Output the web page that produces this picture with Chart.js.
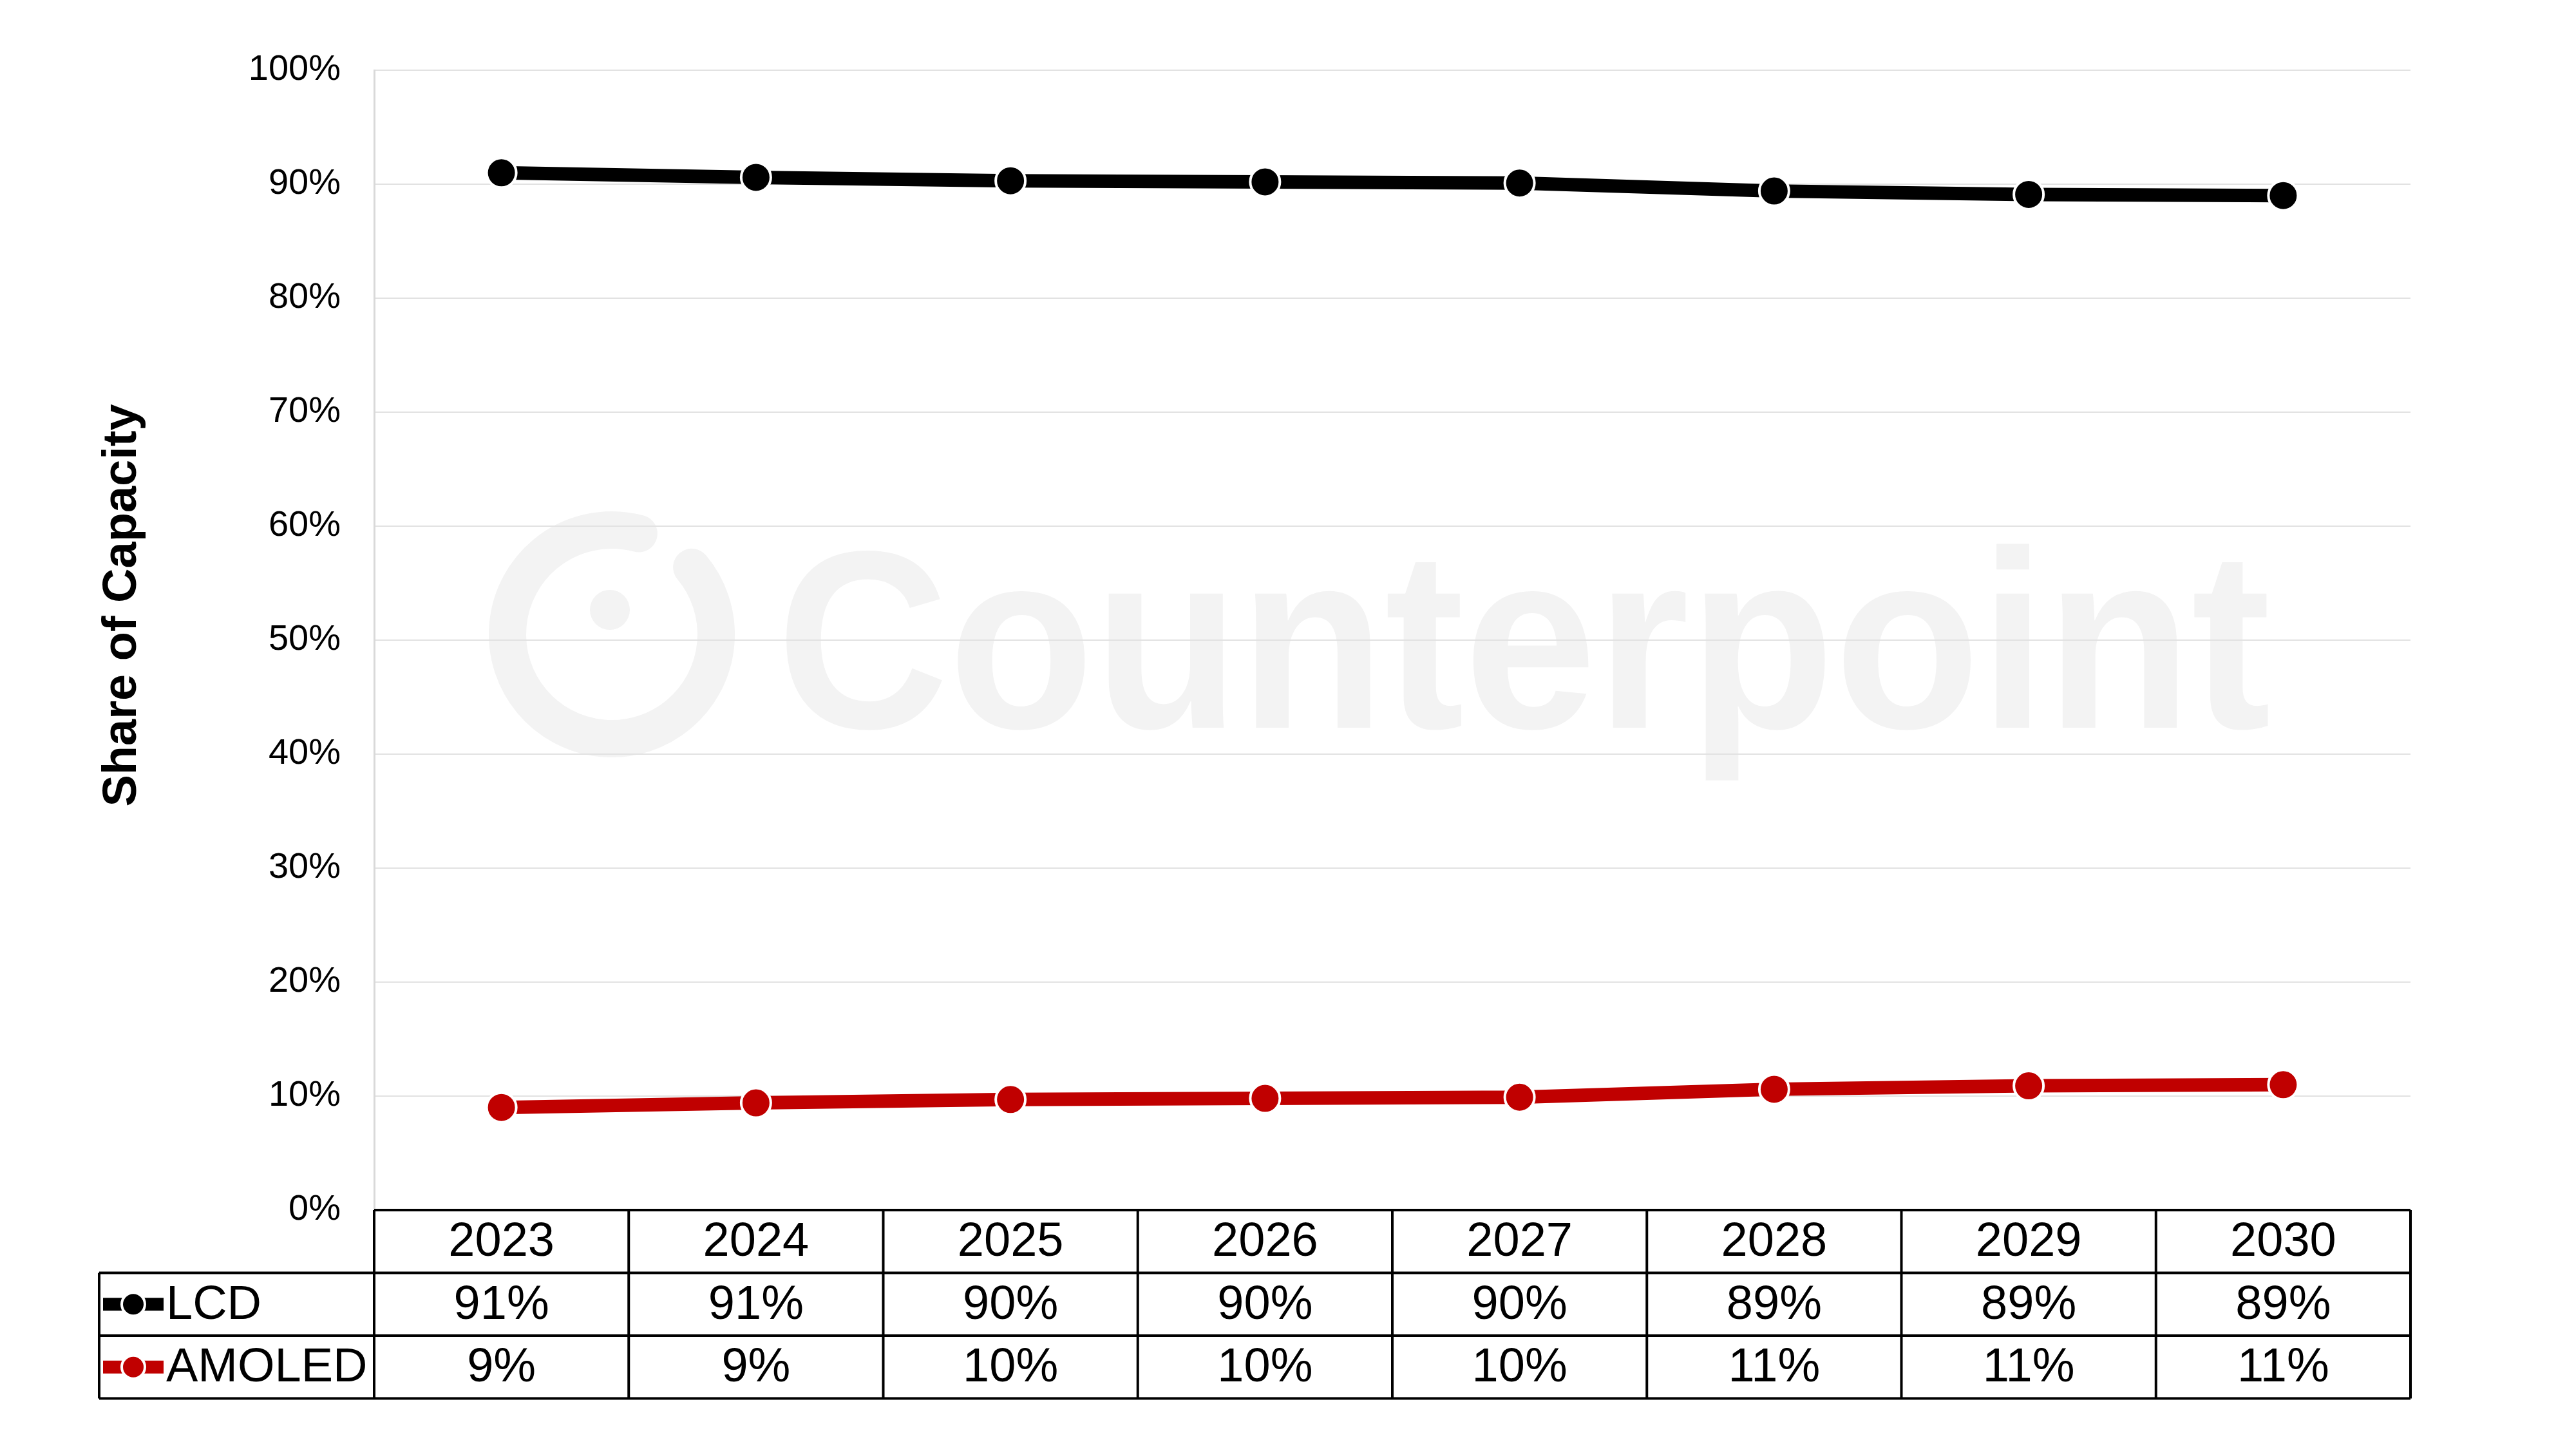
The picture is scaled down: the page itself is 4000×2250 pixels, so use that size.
<!DOCTYPE html>
<html>
<head>
<meta charset="utf-8">
<script src="https://cdn.jsdelivr.net/npm/chart.js@4.4.1/dist/chart.umd.min.js"></script>
<style>
  html, body { margin: 0; padding: 0; background: #fff; }
  #wrap { width: 4000px; height: 2250px; position: relative; }
</style>
</head>
<body>
<div id="wrap"><canvas id="grafico"></canvas></div>
<script>
// datos
const years = ['2023', '2024', '2025', '2026', '2027', '2028', '2029', '2030'];
const lcdShare = [91.0, 90.6, 90.3, 90.2, 90.1, 89.4, 89.1, 89.0];
const amoledShare = [9.0, 9.4, 9.7, 9.8, 9.9, 10.6, 10.9, 11.0];
const seriesNames = ['LCD', 'AMOLED'];
const seriesColors = ['#000000', '#C00000'];
const yTitle = 'Share of Capacity';

const FONT = "'Liberation Sans', Arial, sans-serif";

const tablaPlugin = {
    id: 'tabla',
    beforeDraw(chart) {
        // marca de agua
        const ctx = chart.ctx;
        ctx.save();
        ctx.fillStyle = '#f3f3f3';
        ctx.strokeStyle = '#f3f3f3';
        ctx.font = 'bold 394px ' + FONT;
        ctx.textBaseline = 'alphabetic';
        const w = ctx.measureText('Counterpoint').width;
        ctx.translate(1206, 1130);
        ctx.scale(2320 / w, 1);
        ctx.fillText('Counterpoint', 0, 0);
        ctx.restore();

        ctx.save();
        ctx.strokeStyle = '#f3f3f3';
        ctx.fillStyle = '#f3f3f3';
        ctx.lineWidth = 58;
        ctx.lineCap = 'round';
        ctx.beginPath();
        ctx.arc(950, 985, 162, -40 * Math.PI / 180, 285 * Math.PI / 180);
        ctx.stroke();
        ctx.beginPath();
        ctx.arc(947, 947, 31, 0, Math.PI * 2);
        ctx.fill();
        ctx.restore();
    },
    afterDraw(chart) {
        const { ctx, chartArea: a, scales: { x } } = chart;
        const n = years.length;
        const bw = (a.right - a.left) / n;
        const rowH = 97.5;
        const top = a.bottom;
        const legendLeft = 154;

        ctx.save();
        ctx.strokeStyle = '#000';
        ctx.lineWidth = 4;
        ctx.beginPath();
        ctx.moveTo(a.left, top); ctx.lineTo(a.right, top);
        for (let r = 1; r <= 3; r++) {
            ctx.moveTo(legendLeft, top + r * rowH); ctx.lineTo(a.right, top + r * rowH);
        }
        for (let i = 0; i <= n; i++) {
            ctx.moveTo(a.left + i * bw, top); ctx.lineTo(a.left + i * bw, top + 3 * rowH);
        }
        ctx.moveTo(legendLeft, top + rowH); ctx.lineTo(legendLeft, top + 3 * rowH);
        ctx.stroke();

        ctx.fillStyle = '#000';
        ctx.font = '74px ' + FONT;
        ctx.textAlign = 'center';
        ctx.textBaseline = 'middle';
        const rows = [lcdShare, amoledShare];
        years.forEach((y, i) => {
            const cx = x.getPixelForValue(i);
            ctx.fillText(y, cx, top + rowH / 2 + 2);
            rows.forEach((vals, r) => {
                ctx.fillText(Math.round(vals[i]) + '%', cx, top + (r + 1.5) * rowH + 2);
            });
        });

        // leyenda dentro de la tabla
        seriesNames.forEach((name, r) => {
            const cy = top + (r + 1.5) * rowH;
            ctx.strokeStyle = seriesColors[r];
            ctx.lineWidth = 20;
            ctx.beginPath();
            ctx.moveTo(160, cy); ctx.lineTo(254, cy);
            ctx.stroke();
            ctx.beginPath();
            ctx.arc(207, cy, 18, 0, Math.PI * 2);
            ctx.fillStyle = seriesColors[r];
            ctx.fill();
            ctx.strokeStyle = '#fff';
            ctx.lineWidth = 4;
            ctx.stroke();
            ctx.fillStyle = '#000';
            ctx.textAlign = 'left';
            ctx.fillText(name, 258, cy + 2);
        });

        // titulo eje y
        ctx.translate(191, 940);
        ctx.rotate(-Math.PI / 2);
        ctx.font = 'bold 74px ' + FONT;
        ctx.textAlign = 'center';
        ctx.fillText(yTitle, 0, 0);
        ctx.restore();
    }
};

new Chart(document.getElementById('grafico').getContext('2d'), {
    type: 'line',
    data: {
        labels: years,
        datasets: [{
            label: seriesNames[0],
            data: lcdShare,
            borderColor: seriesColors[0],
            backgroundColor: seriesColors[0],
            pointBackgroundColor: seriesColors[0],
            pointBorderColor: '#ffffff',
            pointBorderWidth: 4,
            pointRadius: 23,
            borderWidth: 21,
            tension: 0
        }, {
            label: seriesNames[1],
            data: amoledShare,
            borderColor: seriesColors[1],
            backgroundColor: seriesColors[1],
            pointBackgroundColor: seriesColors[1],
            pointBorderColor: '#ffffff',
            pointBorderWidth: 4,
            pointRadius: 23,
            borderWidth: 21,
            tension: 0
        }]
    },
    options: {
        responsive: true,
        maintainAspectRatio: false,
        animation: false,
        devicePixelRatio: 1,
        layout: {
            padding: { top: 109, bottom: 371, right: 257, left: 0 }
        },
        plugins: {
            legend: { display: false },
            tooltip: { enabled: false }
        },
        scales: {
            x: {
                display: false,
                offset: true
            },
            y: {
                min: 0,
                max: 100,
                afterFit(scale) { scale.width = 581; },
                ticks: {
                    stepSize: 10,
                    padding: 52,
                    color: '#000',
                    font: { size: 56, family: FONT },
                    callback: v => v + '%'
                },
                grid: {
                    color: '#e2e2e2',
                    lineWidth: 2,
                    drawTicks: false
                },
                border: {
                    color: '#d9d9d9',
                    width: 3
                }
            }
        }
    },
    plugins: [tablaPlugin]
});
</script>
</body>
</html>
